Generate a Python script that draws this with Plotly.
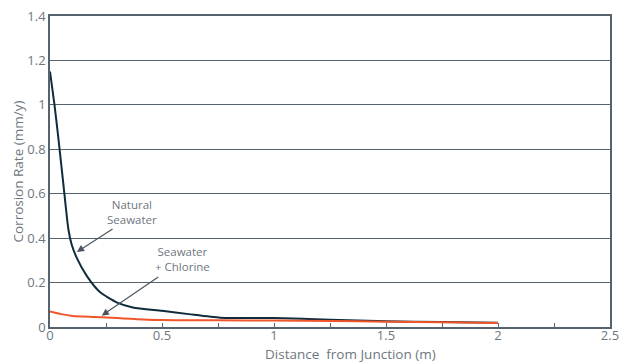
import plotly.graph_objects as go

natural_x = [0, 0.02, 0.037, 0.06, 0.082, 0.097, 0.12, 0.164, 0.224, 0.3, 0.37, 0.5, 0.62, 0.76, 1.0, 1.25, 1.5, 1.75, 2.0]
natural_y = [1.15, 1.0, 0.853, 0.64, 0.44, 0.37, 0.31, 0.23, 0.156, 0.11, 0.088, 0.073, 0.058, 0.042, 0.04, 0.033, 0.026, 0.022, 0.019]

chlorine_x = [0, 0.05, 0.1, 0.2, 0.3, 0.5, 0.75, 1.0, 1.25, 1.5, 1.75, 2.0]
chlorine_y = [0.07, 0.058, 0.05, 0.045, 0.04, 0.031, 0.03, 0.029, 0.027, 0.024, 0.021, 0.018]

x_ticks = [0, 0.5, 1, 1.5, 2, 2.5]
y_ticks = [0, 0.2, 0.4, 0.6, 0.8, 1, 1.2, 1.4]

text_col = "#6e7780"
grid_col = "#56626c"
font_fam = "Open Sans, Lato, sans-serif"

fig = go.Figure()
fig.add_trace(go.Scatter(x=natural_x, y=natural_y, mode="lines",
                         line=dict(color="#0f2c3c", width=2, shape="spline", smoothing=0.6),
                         showlegend=False, hoverinfo="skip"))
fig.add_trace(go.Scatter(x=chlorine_x, y=chlorine_y, mode="lines",
                         line=dict(color="#f0562a", width=2, shape="spline", smoothing=0.6),
                         showlegend=False, hoverinfo="skip"))

# arrows
fig.add_annotation(x=0.12, y=0.338, ax=0.286, ay=0.446, xref="x", yref="y", axref="x", ayref="y",
                   text="", showarrow=True, arrowhead=2, arrowsize=1.2, arrowwidth=1.2, arrowcolor="#4a5560")
fig.add_annotation(x=0.231, y=0.051, ax=0.49, ay=0.23, xref="x", yref="y", axref="x", ayref="y",
                   text="", showarrow=True, arrowhead=2, arrowsize=1.2, arrowwidth=1.2, arrowcolor="#4a5560")
fig.add_annotation(x=0.366, y=0.518, xref="x", yref="y", text="Natural<br>Seawater", showarrow=False,
                   font=dict(family=font_fam, size=11.5, color=text_col), align="center")
fig.add_annotation(x=0.59, y=0.306, xref="x", yref="y", text="Seawater<br>+ Chlorine", showarrow=False,
                   font=dict(family=font_fam, size=11.5, color=text_col), align="center")

# axis titles placed explicitly
fig.add_annotation(x=0.5, y=0, xref="x domain", yref="y domain", yanchor="middle", yshift=-27, xshift=20,
                   text="Distance  from Junction (m)", showarrow=False,
                   font=dict(family=font_fam, size=13.5, color=text_col))
fig.add_annotation(x=0, y=0.5, xref="x domain", yref="y domain", xanchor="center", xshift=-33,
                   text="Corrosion Rate (mm/y)", textangle=-90, showarrow=False,
                   font=dict(family=font_fam, size=13.5, color=text_col))

fig.update_layout(
    width=623, height=363,
    margin=dict(l=50, r=13, t=16, b=36, autoexpand=False),
    paper_bgcolor="white", plot_bgcolor="white",
    font=dict(family=font_fam, size=13, color=text_col),
)
fig.update_xaxes(range=[0, 2.5], tickvals=x_ticks, ticktext=[str(v) for v in x_ticks],
                 showgrid=False, zeroline=False, showline=True, linecolor=grid_col, linewidth=1.5, mirror=True,
                 ticks="inside", ticklen=4, tickcolor=grid_col, automargin=False,
                 ticklabeloverflow="allow", ticklabelstandoff=-4,
                 minor=dict(dtick=0.25, tick0=0, ticks="inside", ticklen=4, tickcolor=grid_col),
                 tickfont=dict(size=13, color=text_col))
fig.update_yaxes(range=[0, 1.4], tickvals=y_ticks, ticktext=[f"{v:g}" for v in y_ticks],
                 showgrid=True, gridcolor=grid_col, gridwidth=1, zeroline=False,
                 showline=True, linecolor=grid_col, linewidth=1.5, mirror=True, automargin=False,
                 ticklabeloverflow="allow",
                 ticks="", tickfont=dict(size=13, color=text_col))

# remove the default page margin so the 623x363 figure fills the window exactly
fig.write_html("out.html", config={"displayModeBar": False},
               post_script="document.body.style.margin='0';document.body.style.overflow='hidden';")
